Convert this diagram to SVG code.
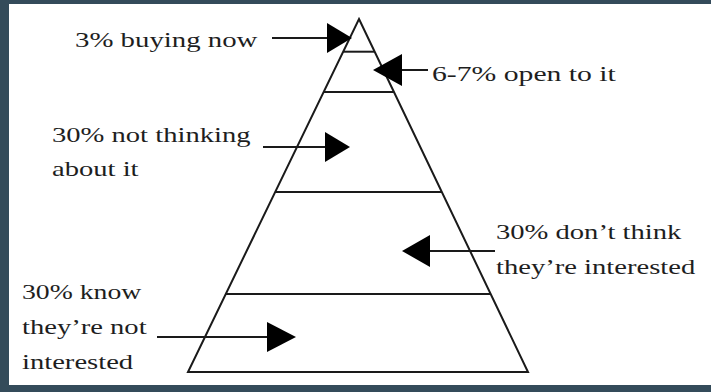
<svg xmlns="http://www.w3.org/2000/svg" width="711" height="392" viewBox="0 0 711 392">
<style>
.lbl{font-family:"Liberation Serif","Times New Roman",serif;font-size:22px;fill:#1e1e1e}
.ln{stroke:#1a1a1a;stroke-width:2;fill:none}
.hd{fill:#000}
</style>
<rect x="0" y="0" width="711" height="392" fill="#344b5a"/>
<rect x="9" y="4" width="702" height="381" fill="#ffffff"/>
<g id="pyramid">
<polygon class="ln" points="359,19 528,372 188,372" stroke-linejoin="miter"/>
<line class="ln" x1="343.2" y1="51.7" x2="374.7" y2="51.7"/>
<line class="ln" x1="323.6" y1="92" x2="394" y2="92"/>
<line class="ln" x1="275.2" y1="192" x2="441.8" y2="192"/>
<line class="ln" x1="225.8" y1="294" x2="490.7" y2="294"/>
</g>
<g id="connectors">
<line class="ln" x1="272" y1="38" x2="330" y2="38"/>
<polygon class="hd" points="352,38 327,23 327,53"/>
<line class="ln" x1="428" y1="70" x2="400" y2="70"/>
<polygon class="hd" points="373,70 402,54 402,86"/>
<line class="ln" x1="263" y1="147" x2="328" y2="147"/>
<polygon class="hd" points="350,147 325,132 325,162"/>
<line class="ln" x1="495" y1="251" x2="428" y2="251"/>
<polygon class="hd" points="402,251 430,235 430,267"/>
<line class="ln" x1="157" y1="337" x2="270" y2="337"/>
<polygon class="hd" points="296,337 267,322 267,352"/>
</g>
<g id="n-buying">
<text class="lbl" transform="translate(75 47) scale(1.31 1)">3% buying now</text>
</g>
<g id="n-open">
<text class="lbl" transform="translate(432 81) scale(1.35 1)">6-7% open to it</text>
</g>
<g id="n-notthinking">
<text class="lbl" transform="translate(52 142) scale(1.3 1)">30% not thinking</text>
<text class="lbl" transform="translate(52 176) scale(1.3 1)">about it</text>
</g>
<g id="n-dontthink">
<text class="lbl" transform="translate(496 239) scale(1.3 1)">30% don’t think</text>
<text class="lbl" transform="translate(496 274) scale(1.3 1)">they’re interested</text>
</g>
<g id="n-know">
<text class="lbl" transform="translate(22 299) scale(1.26 1)">30% know</text>
<text class="lbl" transform="translate(22 334) scale(1.3 1)">they’re not</text>
<text class="lbl" transform="translate(22 369) scale(1.3 1)">interested</text>
</g>
</svg>
